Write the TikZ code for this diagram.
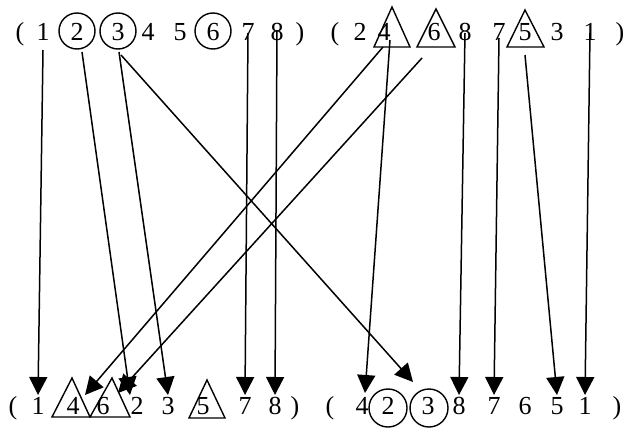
\documentclass[tikz,border=0pt]{standalone}
\usepackage{fontspec}
\setmainfont{Liberation Serif}
\usetikzlibrary{arrows.meta}
\begin{document}
\begin{tikzpicture}[x=1pt,y=-1pt,
  dig/.style={inner sep=0pt,anchor=base,font=\fontsize{26}{30}\selectfont},
  ring/.style={draw,line width=1.4pt},
  tri/.style={draw,line width=1.4pt,line join=miter},
  conn/.style={line width=1.5pt,-{Triangle[length=18pt,width=18pt]}}]
\useasboundingbox (0,0) rectangle (624,431);
% ---------- top row ----------
\node[dig] (tlpa) at (20,40) {(};
\foreach \t/\x/\n in {1/43/tl1,2/77/tl2,3/118/tl3,4/148/tl4,5/180/tl5,6/213/tl6,7/248/tl7,8/277/tl8}
  \node[dig] (\n) at (\x,40) {\t};
\node[dig] (tlpb) at (300,40) {)};
\node[dig] (trpa) at (335,40) {(};
\foreach \t/\x/\n in {2/360/tr2,4/384/tr4,6/434/tr6,8/465/tr8,7/499/tr7,5/525/tr5,3/557/tr3,1/590/tr1}
  \node[dig] (\n) at (\x,40) {\t};
\node[dig] (trpb) at (620,40) {)};
\draw[ring] (77,31) circle (18);
\draw[ring] (118,31) circle (18);
\draw[ring] (213,31) circle (18);
\draw[tri] (374,47) -- (410,47) -- (392,7) -- cycle;
\draw[tri] (417,47) -- (455,47) -- (436,9) -- cycle;
\draw[tri] (507,47) -- (544,47) -- (525,10) -- cycle;
% ---------- bottom row ----------
\node[dig] (blpa) at (13,414) {(};
\foreach \t/\x/\n in {1/38/bl1,4/73/bl4,6/103/bl6,2/137/bl2,3/168/bl3,5/203/bl5,7/245/bl7,8/275/bl8}
  \node[dig] (\n) at (\x,414) {\t};
\node[dig] (blpb) at (295,414) {)};
\node[dig] (brpa) at (330,414) {(};
\foreach \t/\x/\n in {4/362/br4,2/388/br2,3/428/br3,8/459/br8,7/494/br7,6/525/br6,5/557/br5,1/585/br1}
  \node[dig] (\n) at (\x,414) {\t};
\node[dig] (brpb) at (617,414) {)};
\draw[ring] (388,408) circle (19);
\draw[ring] (429,408) circle (19);
\draw[tri] (52,417) -- (90,417) -- (72,378) -- cycle;
\draw[tri] (90,417) -- (130,417) -- (112,378) -- cycle;
\draw[tri] (189,418) -- (225,418) -- (207,380) -- cycle;
% ---------- connector end points ----------
\coordinate (s1) at (43,50);   \coordinate (e1) at (38,395);
\coordinate (s2) at (82,52);   \coordinate (e2) at (130,395);
\coordinate (s3) at (119,52);  \coordinate (e3) at (168,395);
\coordinate (s4) at (121,55);  \coordinate (e4) at (413,382);
\coordinate (s5) at (248,33);  \coordinate (e5) at (245,395);
\coordinate (s6) at (277,30);  \coordinate (e6) at (275,395);
\coordinate (s7) at (383,47);  \coordinate (e7) at (85,395);
\coordinate (s8) at (390,40);  \coordinate (e8) at (365,393);
\coordinate (s9) at (422,58);  \coordinate (e9) at (118,393);
\coordinate (s10) at (465,33); \coordinate (e10) at (459,395);
\coordinate (s11) at (499,38); \coordinate (e11) at (494,395);
\coordinate (s12) at (525,55); \coordinate (e12) at (557,395);
\coordinate (s13) at (590,33); \coordinate (e13) at (585,395);
\foreach \i in {1,...,13}
  \draw[conn] (s\i) -- (e\i);
\end{tikzpicture}
\end{document}
